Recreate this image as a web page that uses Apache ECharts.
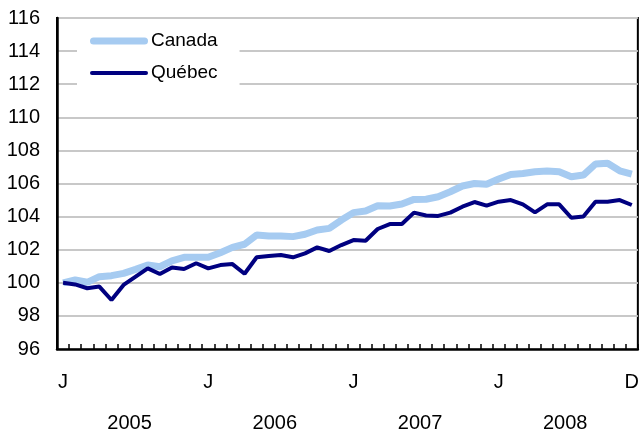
<!DOCTYPE html>
<html>
<head>
<meta charset="utf-8">
<script src="https://cdn.jsdelivr.net/npm/echarts@6/dist/echarts.min.js"></script>
<style>
html,body{margin:0;padding:0;background:#fff;}
#chart{width:642px;height:437px;}
</style>
</head>
<body>
<div id="chart"></div>
<script>
var years = ['2005', '2006', '2007', '2008'];
var monthLetters = ['J', 'F', 'M', 'A', 'M', 'J', 'J', 'A', 'S', 'O', 'N', 'D'];
var yTicks = [96, 98, 100, 102, 104, 106, 108, 110, 112, 114, 116];

var canada = [
  100.0, 100.17, 100.03, 100.37, 100.43, 100.57, 100.81, 101.07, 100.97, 101.33, 101.54, 101.54,
  101.54, 101.82, 102.14, 102.33, 102.89, 102.83, 102.83, 102.79, 102.93, 103.19, 103.29, 103.79,
  104.24, 104.34, 104.66, 104.64, 104.76, 105.04, 105.05, 105.2, 105.5, 105.85, 106.0, 105.95,
  106.27, 106.55, 106.6, 106.71, 106.75, 106.71, 106.41, 106.51, 107.18, 107.22, 106.77, 106.57
];
var quebec = [
  100.0, 99.9, 99.67, 99.77, 98.96, 99.87, 100.37, 100.87, 100.53, 100.93, 100.83, 101.18,
  100.87, 101.07, 101.13, 100.55, 101.54, 101.62, 101.68, 101.54, 101.78, 102.14, 101.92, 102.28,
  102.58, 102.54, 103.25, 103.55, 103.55, 104.24, 104.07, 104.04, 104.24, 104.6, 104.88, 104.66,
  104.9, 105.0, 104.74, 104.26, 104.74, 104.74, 103.93, 104.0, 104.9, 104.9, 105.0, 104.7
];

var categories = [];
years.forEach(function (y) {
  monthLetters.forEach(function (m, i) { categories.push(y + '-' + (i + 1)); });
});

var FONT = '"Liberation Sans", Arial, sans-serif';
var chart = echarts.init(document.getElementById('chart'));
chart.setOption({
  animation: false,
  backgroundColor: '#fff',
  grid: {
    left: 57, right: 2, top: 18, bottom: 88,
    show: true, borderColor: '#000', borderWidth: 2, backgroundColor: 'transparent'
  },
  legend: {
    orient: 'vertical',
    left: 77, top: 25,
    padding: [6, 22, 12, 13],
    backgroundColor: '#fff',
    itemWidth: 58, itemHeight: 14, itemGap: 12,
    symbolKeepAspect: true,
    textStyle: { fontFamily: FONT, fontSize: 19, color: '#000', lineHeight: 20, padding: [0, 0, 0, -2] },
    data: [
      { name: 'Canada', icon: 'path://M3.5,0L54.5,0A3.5,3.5,0,0,1,54.5,7L3.5,7A3.5,3.5,0,0,1,3.5,0Z', itemStyle: { color: '#a6cbf1' } },
      { name: 'Québec', icon: 'path://M2,0L56,0A2,2,0,0,1,56,4L2,4A2,2,0,0,1,2,0Z', itemStyle: { color: '#000080' } }
    ]
  },
  xAxis: [{
    type: 'category',
    data: categories,
    boundaryGap: true,
    axisLine: { lineStyle: { color: '#000', width: 2.5 } },
    axisTick: { show: true, inside: true, length: 5, interval: 0, lineStyle: { color: '#000', width: 1.5 } },
    axisLabel: {
      interval: function (i) { return i % 12 === 0 || i === categories.length - 1; },
      formatter: function (v, i) { return monthLetters[i % 12]; },
      fontFamily: FONT, fontSize: 20, color: '#000', margin: 23
    },
    splitLine: { show: false }
  }, {
    type: 'category',
    data: years,
    position: 'bottom',
    offset: 41,
    boundaryGap: true,
    axisLine: { show: false },
    axisTick: { show: false },
    axisLabel: { fontFamily: FONT, fontSize: 20, color: '#000', margin: 23 },
    splitLine: { show: false }
  }],
  yAxis: {
    type: 'value',
    min: yTicks[0], max: yTicks[yTicks.length - 1], interval: 2,
    axisLine: { show: true, lineStyle: { color: '#000', width: 2.5 } },
    axisTick: { show: false },
    axisLabel: { fontFamily: FONT, fontSize: 20, color: '#000', margin: 17 },
    splitLine: { show: true, lineStyle: { color: '#c8c8c8', width: 2 } }
  },
  series: [{
    name: 'Canada',
    type: 'line',
    data: canada,
    symbol: 'none',
    lineStyle: { color: '#a6cbf1', width: 7 },
    itemStyle: { color: '#a6cbf1' },
    z: 2
  }, {
    name: 'Québec',
    type: 'line',
    data: quebec,
    symbol: 'none',
    lineStyle: { color: '#000080', width: 4 },
    itemStyle: { color: '#000080' },
    z: 3
  }]
});
</script>
</body>
</html>
